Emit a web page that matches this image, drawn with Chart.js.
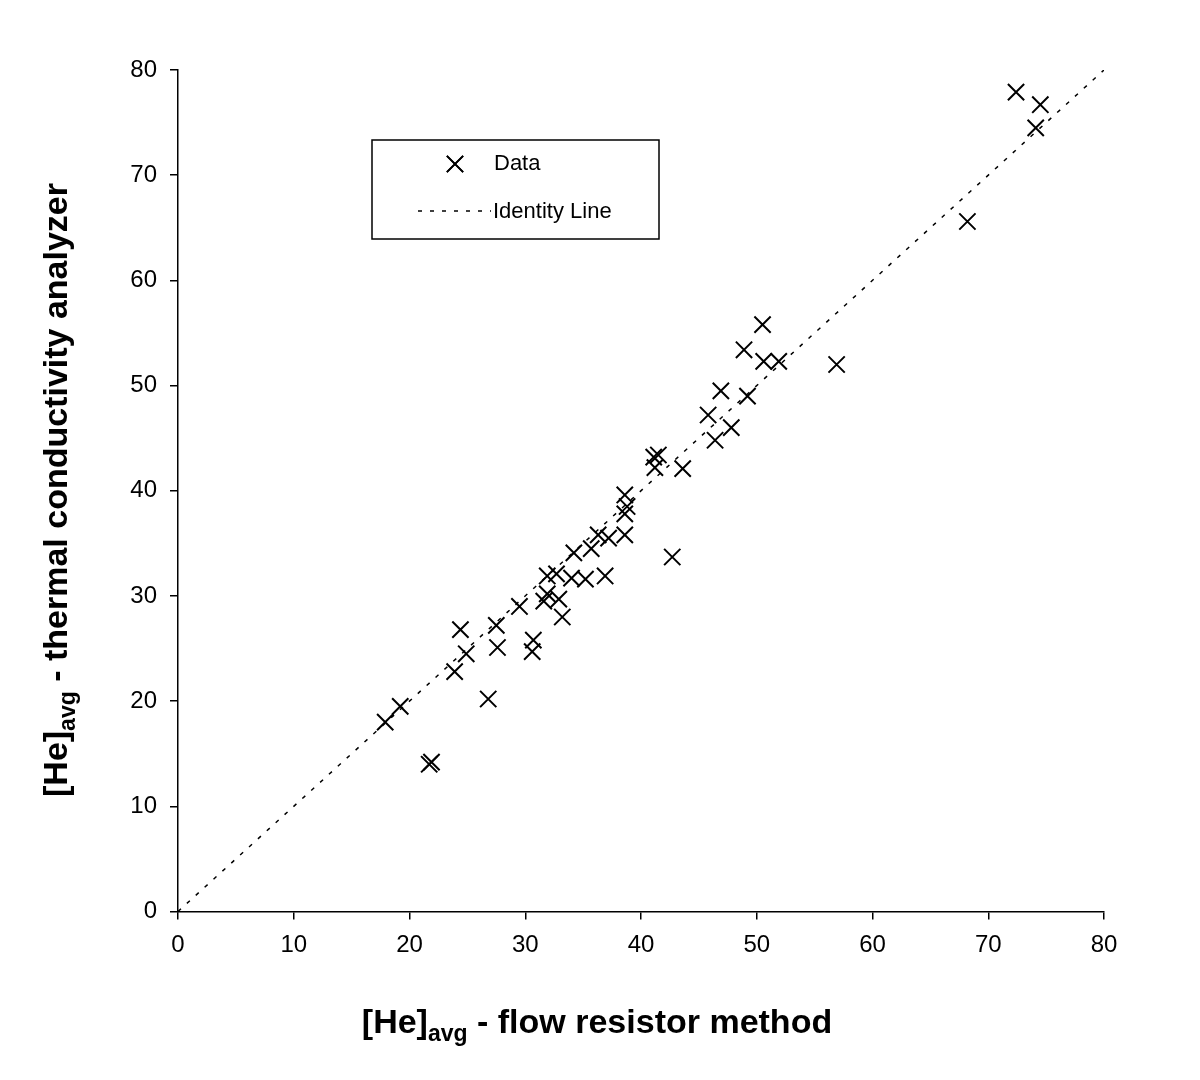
<!DOCTYPE html>
<html>
<head>
<meta charset="utf-8">
<title>[He]avg comparison</title>
<script src="https://cdn.jsdelivr.net/npm/chart.js@4/dist/chart.umd.min.js"></script>
<style>
  html, body { margin: 0; padding: 0; background: #ffffff; }
  #wrap { width: 1200px; height: 1080px; position: relative; }
</style>
</head>
<body>
<div id="wrap"><canvas id="chart" width="1200" height="1080"></canvas></div>
<script>
// [He]avg: flow resistor method (x) vs thermal conductivity analyzer (y)
var flowResistor = [
  17.9, 19.2, 21.7, 21.9, 23.9, 24.4, 24.9, 26.8, 27.5, 27.6,
  29.5, 30.6, 30.7, 31.6, 31.9, 31.9, 32.7, 32.9, 33.2, 34.0,
  34.2, 35.2, 35.7, 36.3, 37.2, 36.9, 38.6, 38.8, 38.6, 38.6,
  41.1, 41.5, 41.2, 42.7, 43.6, 45.8, 46.4, 46.9, 47.8, 48.9,
  49.2, 50.5, 50.6, 51.9, 56.9, 68.2, 72.4, 74.5, 74.1
];
var thermalAnalyzer = [
  18.0, 19.5, 14.0, 14.2, 22.8, 26.8, 24.5, 20.2, 27.2, 25.1,
  29.0, 24.7, 25.8, 29.5, 30.2, 31.9, 32.1, 29.7, 28.0, 31.7,
  34.1, 31.6, 34.5, 35.8, 35.5, 31.9, 39.6, 38.5, 37.8, 35.8,
  43.2, 43.4, 42.2, 33.7, 42.1, 47.2, 44.8, 49.5, 46.0, 53.4,
  49.0, 55.8, 52.3, 52.3, 52.0, 65.6, 77.9, 76.7, 74.5
];
var identityLine = [0, 80];
var axisTicks = [0, 10, 20, 30, 40, 50, 60, 70, 80];

(function () {
  var fontFamily = "'Liberation Sans', Arial, Helvetica, sans-serif";

  var points = flowResistor.map(function (x, i) {
    return { x: x, y: thermalAnalyzer[i] };
  });
  var identity = identityLine.map(function (v) {
    return { x: v, y: v };
  });

  // draws "[He]" + subscript "avg" + rest, centred on (cx, cy) in current transform
  function drawSubTitle(ctx, cx, cy, rest) {
    var main = "bold 34px " + fontFamily;
    var sub = "bold 23px " + fontFamily;
    ctx.font = main;
    var w1 = ctx.measureText("[He]").width;
    var w3 = ctx.measureText(rest).width;
    ctx.font = sub;
    var w2 = ctx.measureText("avg").width;
    var x = cx - (w1 + w2 + w3) / 2;
    ctx.textAlign = "left";
    ctx.textBaseline = "alphabetic";
    ctx.fillStyle = "#000000";
    ctx.font = main;
    ctx.fillText("[He]", x, cy);
    ctx.font = sub;
    ctx.fillText("avg", x + w1, cy + 8);
    ctx.font = main;
    ctx.fillText(rest, x + w1 + w2, cy);
  }

  var titlesAndLegend = {
    id: "titlesAndLegend",
    afterDraw: function (chart) {
      var ctx = chart.ctx;
      ctx.save();

      // axis titles
      drawSubTitle(ctx, 597, 1033, " - flow resistor method");
      ctx.save();
      ctx.translate(67, 490);
      ctx.rotate(-Math.PI / 2);
      drawSubTitle(ctx, 0, 0, " - thermal conductivity analyzer");
      ctx.restore();

      // legend box
      ctx.lineWidth = 1.5;
      ctx.strokeStyle = "#000000";
      ctx.setLineDash([]);
      ctx.strokeRect(372, 140, 287, 99);

      var dataSet = chart.data.datasets[0];
      var lineSet = chart.data.datasets[1];

      Chart.helpers.drawPoint(ctx, {
        pointStyle: dataSet.pointStyle,
        radius: dataSet.pointRadius,
        rotation: 0,
        borderWidth: dataSet.borderWidth
      }, 455, 164);
      ctx.strokeStyle = dataSet.borderColor;
      ctx.lineWidth = dataSet.borderWidth;
      ctx.stroke();

      ctx.beginPath();
      ctx.strokeStyle = lineSet.borderColor;
      ctx.lineWidth = lineSet.borderWidth;
      ctx.setLineDash(lineSet.borderDash);
      ctx.moveTo(418, 211);
      ctx.lineTo(491, 211);
      ctx.stroke();
      ctx.setLineDash([]);

      ctx.fillStyle = "#000000";
      ctx.font = "22px " + fontFamily;
      ctx.textAlign = "left";
      ctx.textBaseline = "middle";
      ctx.fillText(dataSet.label, 494, 164);
      ctx.fillText(lineSet.label, 493, 212);

      ctx.restore();
    }
  };

  var tickFont = { family: fontFamily, size: 24 };

  new Chart(document.getElementById("chart"), {
    type: "scatter",
    data: {
      datasets: [
        {
          label: "Data",
          data: points,
          pointStyle: "crossRot",
          pointRadius: 11.5,
          pointHoverRadius: 11.5,
          borderColor: "#000000",
          backgroundColor: "#000000",
          borderWidth: 2,
          showLine: false
        },
        {
          label: "Identity Line",
          data: identity,
          showLine: true,
          borderColor: "#000000",
          borderWidth: 1.5,
          borderDash: [4, 8],
          pointRadius: 0,
          pointHoverRadius: 0,
          fill: false
        }
      ]
    },
    options: {
      responsive: false,
      animation: false,
      events: [],
      layout: { padding: { left: 0, right: 96, top: 70, bottom: 0 } },
      plugins: {
        legend: { display: false },
        tooltip: { enabled: false }
      },
      scales: {
        x: {
          type: "linear",
          min: axisTicks[0],
          max: axisTicks[axisTicks.length - 1],
          afterBuildTicks: function (scale) {
            scale.ticks = axisTicks.map(function (v) { return { value: v }; });
          },
          afterFit: function (scale) { scale.height = 168.5; },
          border: { display: true, color: "#000000", width: 1.5 },
          grid: { drawOnChartArea: false, drawTicks: true, tickLength: 8, color: "#000000", lineWidth: 1.5 },
          ticks: { color: "#000000", font: tickFont, padding: 11, maxRotation: 0 }
        },
        y: {
          type: "linear",
          min: axisTicks[0],
          max: axisTicks[axisTicks.length - 1],
          afterBuildTicks: function (scale) {
            scale.ticks = axisTicks.map(function (v) { return { value: v }; });
          },
          afterFit: function (scale) { scale.width = 178; },
          border: { display: true, color: "#000000", width: 1.5 },
          grid: { drawOnChartArea: false, drawTicks: true, tickLength: 8, color: "#000000", lineWidth: 1.5 },
          ticks: { color: "#000000", font: tickFont, padding: 13 }
        }
      }
    },
    plugins: [titlesAndLegend]
  });
})();
</script>
</body>
</html>
